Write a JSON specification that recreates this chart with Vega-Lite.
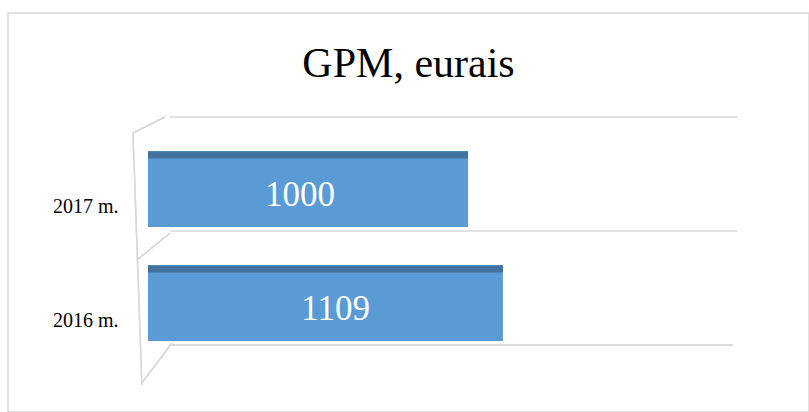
{
  "$schema": "https://vega.github.io/schema/vega-lite/v6.json",
  "width": 801,
  "height": 399,
  "autosize": {"type": "none"},
  "padding": {"left": 8, "top": 13, "right": 0, "bottom": 0},
  "background": "white",
  "config": {
    "view": {"stroke": "#d9d9d9", "strokeWidth": 1.5},
    "font": "Liberation Serif"
  },
  "title": {
    "text": "GPM, eurais",
    "font": "Liberation Serif",
    "fontSize": 42,
    "fontWeight": "normal",
    "color": "#000000",
    "anchor": "middle",
    "baseline": "alphabetic",
    "offset": -106
  },
  "data": {"values": [
    {"year": "2017 m.", "value": 1000},
    {"year": "2016 m.", "value": 1109}
  ]},
  "layer": [
    {
      "mark": {"type": "rule", "color": "#d9d9d9", "strokeWidth": 1.5},
      "encoding": {
        "y": {"field": "year", "type": "nominal", "bandPosition": 0,
              "scale": {"domain": ["2017 m.", "2016 m."], "paddingInner": 0, "paddingOuter": 0.75, "align": 0.608},
              "axis": {"title": null, "domain": false, "ticks": false, "tickSize": 0, "grid": false,
                       "labelPadding": 0, "offset": -110, "labelOffset": 33,
                       "labelFont": "Liberation Serif", "labelFontSize": 20, "labelColor": "#000000"}},
        "x": {"datum": 69, "type": "quantitative",
              "scale": {"domain": [-437.5, 2065.6], "nice": false, "zero": false},
              "axis": null},
        "x2": {"datum": 1841}
      }
    },
    {
      "mark": {"type": "rule", "color": "#d9d9d9", "strokeWidth": 1.5},
      "encoding": {
        "y": {"datum": "2016 m.", "type": "nominal", "bandPosition": 1},
        "x": {"datum": 75, "type": "quantitative"},
        "x2": {"datum": 1828}
      }
    },
    {
      "mark": {"type": "rule", "color": "#d9d9d9", "strokeWidth": 1.5, "yOffset": -41, "y2Offset": 97},
      "encoding": {
        "y": {"datum": "2017 m.", "type": "nominal"},
        "y2": {"datum": "2016 m."},
        "x": {"datum": -47, "type": "quantitative"},
        "x2": {"datum": -19}
      }
    },
    {
      "mark": {"type": "rule", "color": "#d9d9d9", "strokeWidth": 1.5, "yOffset": -41, "y2Offset": -57},
      "encoding": {
        "y": {"datum": "2017 m.", "type": "nominal"},
        "y2": {"datum": "2017 m."},
        "x": {"datum": -47, "type": "quantitative"},
        "x2": {"datum": 53}
      }
    },
    {
      "mark": {"type": "rule", "color": "#d9d9d9", "strokeWidth": 1.5, "yOffset": -28, "y2Offset": -55},
      "encoding": {
        "y": {"datum": "2016 m.", "type": "nominal"},
        "y2": {"datum": "2016 m."},
        "x": {"datum": -34.5, "type": "quantitative"},
        "x2": {"datum": 69}
      }
    },
    {
      "mark": {"type": "rule", "color": "#d9d9d9", "strokeWidth": 1.5, "yOffset": 95, "y2Offset": 55},
      "encoding": {
        "y": {"datum": "2016 m.", "type": "nominal"},
        "y2": {"datum": "2016 m."},
        "x": {"datum": -19, "type": "quantitative"},
        "x2": {"datum": 75}
      }
    },
    {
      "mark": {"type": "bar", "color": "#5b9bd5", "height": 76, "yOffset": 15},
      "encoding": {
        "y": {"field": "year", "type": "nominal"},
        "x": {"field": "value", "type": "quantitative"}
      }
    },
    {
      "mark": {"type": "bar", "color": "#44729e", "height": 7, "yOffset": -19},
      "encoding": {
        "y": {"field": "year", "type": "nominal"},
        "x": {"field": "value", "type": "quantitative"}
      }
    },
    {
      "mark": {"type": "text", "color": "#ffffff", "font": "Liberation Serif", "fontSize": 35,
               "align": "right", "baseline": "middle", "dx": -133, "yOffset": 21},
      "encoding": {
        "y": {"field": "year", "type": "nominal"},
        "x": {"field": "value", "type": "quantitative"},
        "text": {"field": "value", "type": "quantitative", "format": "d"}
      }
    }
  ]
}
